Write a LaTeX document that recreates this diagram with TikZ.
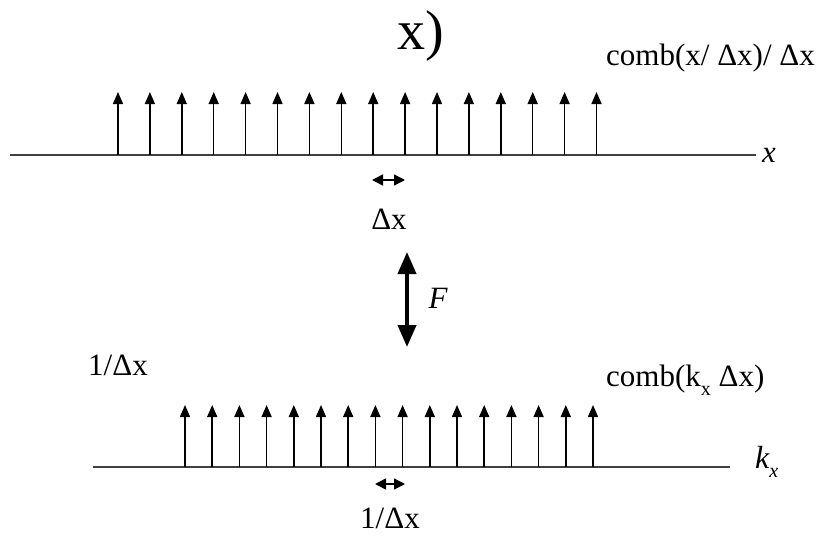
\documentclass[tikz,border=0pt]{standalone}
\usepackage{fontspec}
\setmainfont{Liberation Serif}
\usetikzlibrary{arrows.meta,positioning}
\newcommand{\subx}[1]{\raisebox{-0.3em}{\fontsize{20}{20}\selectfont #1}}

\begin{document}
\begin{tikzpicture}[x=1pt, y=-1pt, >={Triangle[width=10pt,length=12pt]},
    spike/.style={->, line width=1.5pt},
    axisline/.style={line width=1.5pt, black!75},
    spacing/.style={{Triangle[width=11pt,length=11pt]}-{Triangle[width=11pt,length=11pt]}, line width=1.5pt},
    lbl/.style={font=\fontsize{31}{36}\selectfont, inner sep=0pt}]
    \useasboundingbox (0,0) rectangle (826,535);

    % Top: comb in x
    \coordinate (xa) at (10,155);
    \coordinate (xb) at (756,155);
    \draw[axisline] (xa) -- (xb);
    \node[lbl, font=\fontsize{31}{36}\selectfont\itshape, anchor=west] (xlab) at (762,155) {x};
    \foreach \i in {0,...,15} {
      \coordinate (t\i) at ({118+31.9*\i},155);
      \draw[spike] (t\i) -- ++(0,-63);
    }
    \node[lbl, font=\fontsize{56}{60}\selectfont] (title) at (421,36) {x)};
    \node[lbl, anchor=west] (combx) at (606,58) {comb(x/ Δx)/ Δx};

    % Sample spacing
    \coordinate (d1) at (372,180);
    \coordinate (d2) at (405,180);
    \draw[spacing] (d1) -- (d2);
    \node[lbl] (dx) at (389,219) {Δx};

    % Fourier transform
    \coordinate (fa) at (407,252);
    \coordinate (fb) at (407,347);
    \draw[{Triangle[width=18pt,length=22pt]}-{Triangle[width=18pt,length=22pt]}, line width=4pt] (fa) -- (fb);
    \node[lbl, font=\fontsize{31}{36}\selectfont\itshape] (F) at (438,298) {F};

    % Bottom: comb in k_x
    \coordinate (ka) at (93,467);
    \coordinate (kb) at (730,467);
    \draw[axisline] (ka) -- (kb);
    \node[lbl, font=\fontsize{32}{36}\selectfont\itshape, anchor=west] (klab) at (755,462) {k\subx{x}};
    \foreach \i in {0,...,15} {
      \coordinate (b\i) at ({185+27.2*\i},467);
      \draw[spike] (b\i) -- ++(0,-62);
    }
    \node[lbl] (height) at (118,365) {1/Δx};
    \node[lbl, anchor=west] (combk) at (606,380) {comb(k\subx{x} Δx)};

    \coordinate (e1) at (375,484);
    \coordinate (e2) at (405,484);
    \draw[spacing] (e1) -- (e2);
    \node[lbl] (invdx) at (390,518) {1/Δx};
\end{tikzpicture}
\end{document}
